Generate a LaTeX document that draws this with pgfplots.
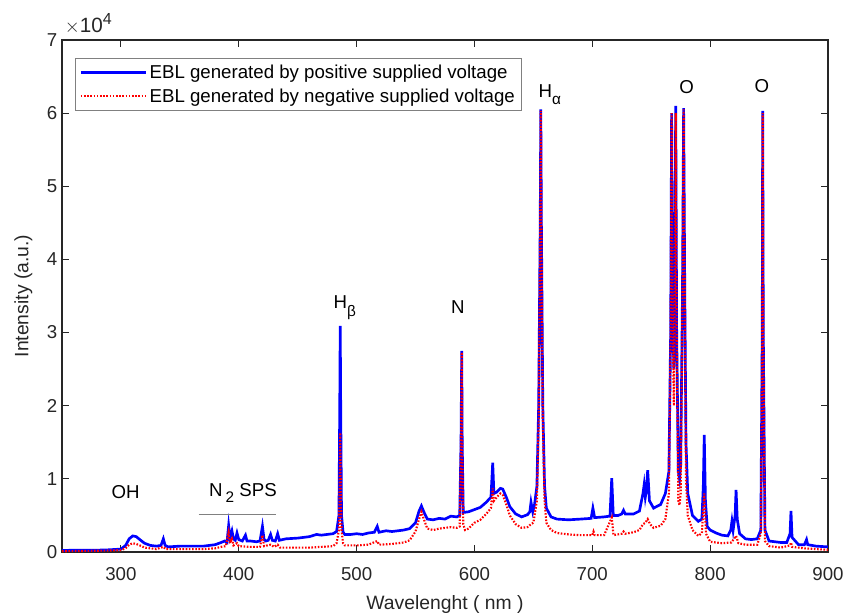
\documentclass[border=0pt]{standalone}
\usepackage{pgfplots}
\pgfplotsset{compat=1.18}
\usepackage{fontspec}
\setmainfont{Liberation Sans}
\definecolor{axgray}{rgb}{0.15,0.15,0.15}
\begin{document}
\begin{tikzpicture}
\begin{axis}[
  scale only axis,
  width=574.5pt, height=384pt,
  xmin=250, xmax=900, ymin=0, ymax=70000,
  xtick={300,400,500,600,700,800,900},
  xticklabels={300,400,500,600,700,800,900},
  ytick={0,10000,20000,30000,40000,50000,60000,70000},
  yticklabels={0,1,2,3,4,5,6,7},
  scaled y ticks=false,
  tick label style={font=\fontsize{14}{16}\selectfont, color=axgray},
  xticklabel style={yshift=-8pt},
  label style={font=\fontsize{14.5}{17}\selectfont, color=axgray},
  xlabel={Wavelenght ( nm )},
  ylabel={Intensity (a.u.)},
  xlabel style={yshift=-4pt},
  ylabel style={yshift=4pt},
  axis line style={color=axgray, line width=0.9pt},
  tick style={color=axgray, line width=0.8pt},
  major tick length=5pt,
  tick align=inside,
  legend style={at={(rel axis cs:0.017,0.965)}, anchor=north west, draw=gray, line width=0.6pt,
     font=\fontsize{14}{17}\selectfont, inner xsep=3pt, inner ysep=3pt, row sep=2pt},
  legend cell align=left,
  legend image post style={xscale=2.85},
  clip=true,
]
\addplot[blue, line width=2pt] table {
250 200
260 250
270 250
280 250
290 300
300 400
304 900
307 1800
310 2200
313 2100
316 1700
320 1200
325 900
330 800
334 900
336 1800
337.5 900
340 700
350 800
360 800
370 800
380 1000
385 1300
388 1500
390 1300
391.4 3600
392.5 2000
394.2 2900
395.5 1800
397 1600
398.5 2600
400 1700
403 1500
405.7 2300
407 1500
410 1500
415 1400
418 1500
420.1 3500
421.5 1700
423 1500
425 1600
427 2400
428.5 1600
431 1500
433 2500
434.5 1600
440 1800
450 1900
460 2100
466 2400
470 2300
475 2400
480 2500
483 2800
485 5000
485.7 20000
486.1 30900
486.5 20000
487.2 5000
488.5 2700
490 2400
495 2400
500 2500
505 2400
510 2600
515 2700
517.5 3500
519 2700
525 2900
530 2800
540 3000
545 3200
550 4000
553 5600
555 6300
557 5500
560 4500
565 4400
570 4600
575 4500
580 4900
585 4800
587.5 5000
588.6 15000
589.2 27500
589.6 15000
590.5 5400
595 5500
600 5800
605 6100
610 6800
614 7500
615.5 12200
616.5 8000
619 8200
622 8700
624 8600
627 7500
630 6200
635 5200
640 4800
645 5100
647 5500
648 6800
649.5 5500
651 6500
653 9000
654.5 20000
655.8 45000
656.3 60500
656.8 45000
658 20000
659.5 9000
661 6000
665 4800
670 4500
680 4400
690 4500
699 4600
700.5 6000
702 4700
710 4800
715 4900
716.5 10100
717.8 5000
722 5000
725 5200
726.5 5700
728 5200
735 5200
740 5600
743 8000
744 9200
745 7500
746 8500
747 11200
748.5 7000
752 6000
758 6500
762 8000
765 11000
766.5 30000
767.3 60000
768 35000
769.2 25000
770 40000
770.8 61000
771.6 30000
773 11000
774 10000
775 12000
776.5 35000
777.5 60700
778.5 35000
779.5 15000
781 8000
785 5000
790 4200
793 4500
794.2 9000
795 16000
796 7000
797.5 3500
800 3000
805 2600
810 2300
815 2200
817.5 3000
818.5 4200
819.5 3000
821.2 5000
822 8500
823 4500
825 2500
830 1800
835 1700
840 1800
843 3000
844.2 30000
844.6 60300
845.1 30000
846.5 3000
850 1500
855 1400
860 1300
865 1300
867.8 2500
868.6 5600
869.5 2000
875 1000
880 1000
881.8 1700
882.8 1000
890 800
900 700
};
\addlegendentry{EBL generated by positive supplied voltage}
\addplot[red, line width=1.6pt, dash pattern=on 1.2pt off 1.2pt] table {
250 100
270 150
290 200
300 250
304 500
307 1000
310 1200
313 1100
316 900
320 600
330 400
336 700
338 400
350 400
370 400
380 500
385 700
389 800
391.4 2700
392.5 1200
394.2 1800
395.5 900
398.5 1200
400 800
410 700
418 700
420.1 2300
421.5 800
427 1000
430 700
433 1000
435 600
440 600
460 600
470 700
480 800
483 1200
485 3000
485.7 10000
486.1 16300
486.5 10000
487.2 3000
488.5 1200
490 900
500 900
510 1000
517.5 1500
519 1000
530 1100
540 1300
545 1600
550 2800
553 4500
555 5500
557 4500
560 3200
565 3000
570 3200
580 3400
585 3300
587.5 3500
588.6 15000
589.2 27300
589.6 15000
590.5 3800
592 3000
595 3200
600 4000
605 4400
610 5200
614 6000
615.5 8700
616.5 7000
619 7500
622 8000
624 7800
627 6500
630 5000
635 3800
640 3300
645 3400
648 3800
650 4000
653 7000
654.5 18000
655.8 45000
656.3 60300
656.8 45000
658 18000
659.5 7000
661 4000
665 3000
670 2600
680 2400
690 2300
700 2300
701 2800
702 2300
710 2300
716.5 4700
718 2300
725 2500
726.5 2800
728 2500
735 2700
740 3000
743 3800
745 4000
747 4500
749 3800
752 3300
758 3600
762 4500
765 8000
766.5 30000
767.3 60000
768 35000
769.2 20000
770 35000
770.8 60000
771.6 30000
773 7000
774 6400
775 8000
776.5 35000
777.5 60500
778.5 35000
779.5 10000
781 5000
785 3000
790 2200
793 2600
795 8000
796.5 2500
800 1400
810 1200
818 1300
822 2200
824 1200
830 1000
840 1000
843 2500
844.2 30000
844.6 60000
845.1 30000
846.5 1500
850 800
860 600
867.8 900
868.6 1300
869.5 700
880 500
890 400
900 300
};
\addlegendentry{EBL generated by negative supplied voltage}
\begin{scope}[every node/.style={font=\fontsize{14}{16}\selectfont, inner sep=0pt}]
\node at (axis cs:304,8200) {OH};
\node at (axis cs:403.5,8100) {N\,\raisebox{-0.6ex}{\fontsize{11.5}{12}\selectfont 2} SPS};
\draw[gray, line width=0.8pt] (axis cs:366,5100) -- (axis cs:432,5100);
\node at (axis cs:490,33400) {H\raisebox{-0.75ex}{\fontsize{11.5}{12}\selectfont β}};
\node at (axis cs:586,33500) {N};
\node at (axis cs:664,62500) {H\raisebox{-0.75ex}{\fontsize{11.5}{12}\selectfont α}};
\node at (axis cs:780,63600) {O};
\node at (axis cs:844,63700) {O};
\end{scope}
\coordinate (tl) at (rel axis cs:0,1);
\end{axis}
\node[anchor=south west, color=axgray, font=\fontsize{15.5}{17}\selectfont, inner sep=0pt] at ([xshift=2pt,yshift=4pt]tl) {$\times$10\raisebox{0.8ex}{\fontsize{12}{13}\selectfont 4}};
\pgfresetboundingbox
\path[use as bounding box] (-46.5pt,-47.25pt) rectangle (586.5pt,414pt);
\end{tikzpicture}
\end{document}
